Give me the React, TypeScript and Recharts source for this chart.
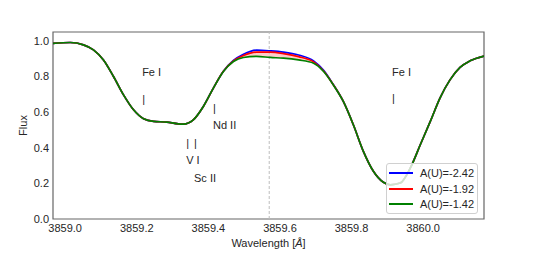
import React from 'react';
import {
  ComposedChart,
  Line,
  Area,
  XAxis,
  YAxis,
  Legend,
  ReferenceLine,
  ReferenceArea,
  ReferenceDot,
  Label,
} from 'recharts';

// wavelength grid (Angstrom)
const wavelength = [
  3858.966, 3859.014, 3859.051, 3859.079, 3859.107, 3859.135, 3859.163, 3859.191,
  3859.219, 3859.247, 3859.284, 3859.316, 3859.330, 3859.358, 3859.386, 3859.414,
  3859.442, 3859.470, 3859.498, 3859.535, 3859.573, 3859.610, 3859.652, 3859.694,
  3859.722, 3859.749, 3859.777, 3859.805, 3859.833, 3859.861, 3859.889, 3859.908,
  3859.936, 3859.964, 3859.992, 3860.020, 3860.047, 3860.075, 3860.103, 3860.131,
  3860.170,
];

// synthetic spectra for three uranium abundances
const fluxLow = [
  0.986, 0.991, 0.978, 0.950, 0.893, 0.800, 0.697, 0.613,
  0.563, 0.548, 0.544, 0.534, 0.533, 0.557, 0.632, 0.735,
  0.830, 0.890, 0.925, 0.948, 0.944, 0.937, 0.921, 0.888,
  0.835, 0.755, 0.660, 0.529, 0.380, 0.268, 0.206, 0.192,
  0.202, 0.286, 0.417, 0.548, 0.679, 0.781, 0.851, 0.888,
  0.915,
];
const fluxMid = [
  0.986, 0.991, 0.978, 0.950, 0.893, 0.800, 0.697, 0.613,
  0.563, 0.548, 0.544, 0.534, 0.533, 0.557, 0.632, 0.735,
  0.829, 0.887, 0.918, 0.937, 0.937, 0.929, 0.912, 0.882,
  0.831, 0.754, 0.660, 0.529, 0.380, 0.268, 0.206, 0.192,
  0.202, 0.286, 0.417, 0.548, 0.679, 0.781, 0.851, 0.888,
  0.915,
];
const fluxHigh = [
  0.986, 0.991, 0.978, 0.950, 0.893, 0.800, 0.697, 0.613,
  0.563, 0.548, 0.544, 0.534, 0.533, 0.557, 0.632, 0.735,
  0.828, 0.884, 0.907, 0.913, 0.907, 0.903, 0.893, 0.875,
  0.828, 0.753, 0.660, 0.529, 0.380, 0.268, 0.206, 0.192,
  0.202, 0.286, 0.417, 0.548, 0.679, 0.781, 0.851, 0.888,
  0.915,
];

const seriesNames = ['A(U)=-2.42', 'A(U)=-1.92', 'A(U)=-1.42'];
const seriesColors = ['#0000ff', '#ff0000', '#008000'];

const xTicks = [3859.0, 3859.2, 3859.4, 3859.6, 3859.8, 3860.0];
const yTicks = [0, 0.2, 0.4, 0.6, 0.8, 1.0];
const uranLine = 3859.57;

// line identifications: name, wavelength, marker flux, name flux
const lineLabels = ['Fe I', 'Nd II', 'V I', 'Sc II', 'Fe I'];
const lineWave = [3859.215, 3859.413, 3859.338, 3859.360, 3859.913];
const markFlux = [0.673, 0.623, 0.425, 0.425, 0.679];
const nameFlux = [0.824, 0.529, 0.331, 0.230, 0.828];

const data = wavelength.map((w, i) => ({
  w,
  low: fluxLow[i],
  mid: fluxMid[i],
  high: fluxHigh[i],
  band: [fluxHigh[i], fluxLow[i]],
}));

const font = '"Liberation Sans", Arial, sans-serif';
const textColor = '#262626';

const annot = (value: string) => (props: any) => (
  <text
    x={props.cx}
    y={props.cy}
    textAnchor="start"
    dominantBaseline="central"
    fontSize={11}
    fontFamily={font}
    fill={textColor}
  >
    {value}
  </text>
);

const LegendBox = () => (
  <div
    style={{
      width: 90,
      height: 49,
      border: '1px solid #d0d0d0',
      borderRadius: 3,
      background: 'rgba(255,255,255,0.8)',
      fontFamily: font,
      fontSize: 11,
      color: textColor,
    }}
  >
    {seriesNames.map((n, i) => (
      <div key={n} style={{ display: 'flex', alignItems: 'center', height: 15.5, marginTop: i === 0 ? 1.5 : 0 }}>
        <div style={{ width: 24, height: 2, background: seriesColors[i], marginLeft: 2, marginRight: 7 }} />
        <span>{n}</span>
      </div>
    ))}
  </div>
);

export default function App() {
  return (
    <div style={{ position: 'absolute', left: 0, top: 0, background: '#fff' }}>
      <ComposedChart
        width={538}
        height={279}
        data={data}
        margin={{ top: 32, right: 54, bottom: 0, left: 0 }}
      >
        <XAxis
          dataKey="w"
          type="number"
          domain={[3858.966, 3860.17]}
          ticks={xTicks}
          tickFormatter={(v: number) => v.toFixed(1)}
          allowDataOverflow
          axisLine={false}
          tickLine={false}
          tickSize={4}
          tickMargin={1}
          height={60}
          tick={{ fontSize: 11, fontFamily: font, fill: textColor }}
        >
          <Label
            content={({ viewBox }: any) => (
              <text
                x={viewBox.x + viewBox.width / 2}
                y={247}
                textAnchor="middle"
                fontSize={11}
                fontFamily={font}
                fill={textColor}
              >
                Wavelength [<tspan fontStyle="italic">Å</tspan>]
              </text>
            )}
          />
        </XAxis>
        <YAxis
          type="number"
          domain={[0, 1.05]}
          ticks={yTicks}
          tickFormatter={(v: number) => v.toFixed(1)}
          allowDataOverflow
          axisLine={false}
          tickLine={false}
          tickSize={4}
          tickMargin={0}
          width={53}
          tick={{ fontSize: 11, fontFamily: font, fill: textColor }}
        >
          <Label
            content={({ viewBox }: any) => (
              <text
                x={27}
                y={viewBox.y + viewBox.height / 2}
                transform={`rotate(-90, 27, ${viewBox.y + viewBox.height / 2})`}
                textAnchor="middle"
                fontSize={11}
                fontFamily={font}
                fill={textColor}
              >
                Flux
              </text>
            )}
          />
        </YAxis>
        <ReferenceLine x={uranLine} stroke="#bdbdbd" strokeDasharray="3 2" strokeWidth={1} />
        <Area
          dataKey="band"
          type="monotone"
          stroke="none"
          fill="#ff0000"
          fillOpacity={0.2}
          legendType="none"
          isAnimationActive={false}
        />
        <Line dataKey="low" name={seriesNames[0]} type="monotone" stroke={seriesColors[0]} strokeWidth={1.7} dot={false} isAnimationActive={false} />
        <Line dataKey="mid" name={seriesNames[1]} type="monotone" stroke={seriesColors[1]} strokeWidth={1.7} dot={false} isAnimationActive={false} />
        <Line dataKey="high" name={seriesNames[2]} type="monotone" stroke={seriesColors[2]} strokeWidth={1.7} dot={false} isAnimationActive={false} />
        {lineWave.map((w, i) => (
          <ReferenceDot key={'m' + i} x={w} y={markFlux[i]} r={0} shape={annot('|')} />
        ))}
        {lineWave.map((w, i) => (
          <ReferenceDot key={'n' + i} x={w} y={nameFlux[i]} r={0} shape={annot(lineLabels[i])} />
        ))}
        <ReferenceArea x1={3858.966} x2={3860.17} y1={0} y2={1.05} fill="none" stroke="#666" strokeWidth={1.2} />
        <Legend
          layout="horizontal"
          verticalAlign="middle"
          align="center"
          content={<LegendBox />}
          wrapperStyle={{ position: 'absolute', left: 386, top: 163, width: 92, bottom: 'auto' }}
        />
      </ComposedChart>
    </div>
  );
}
